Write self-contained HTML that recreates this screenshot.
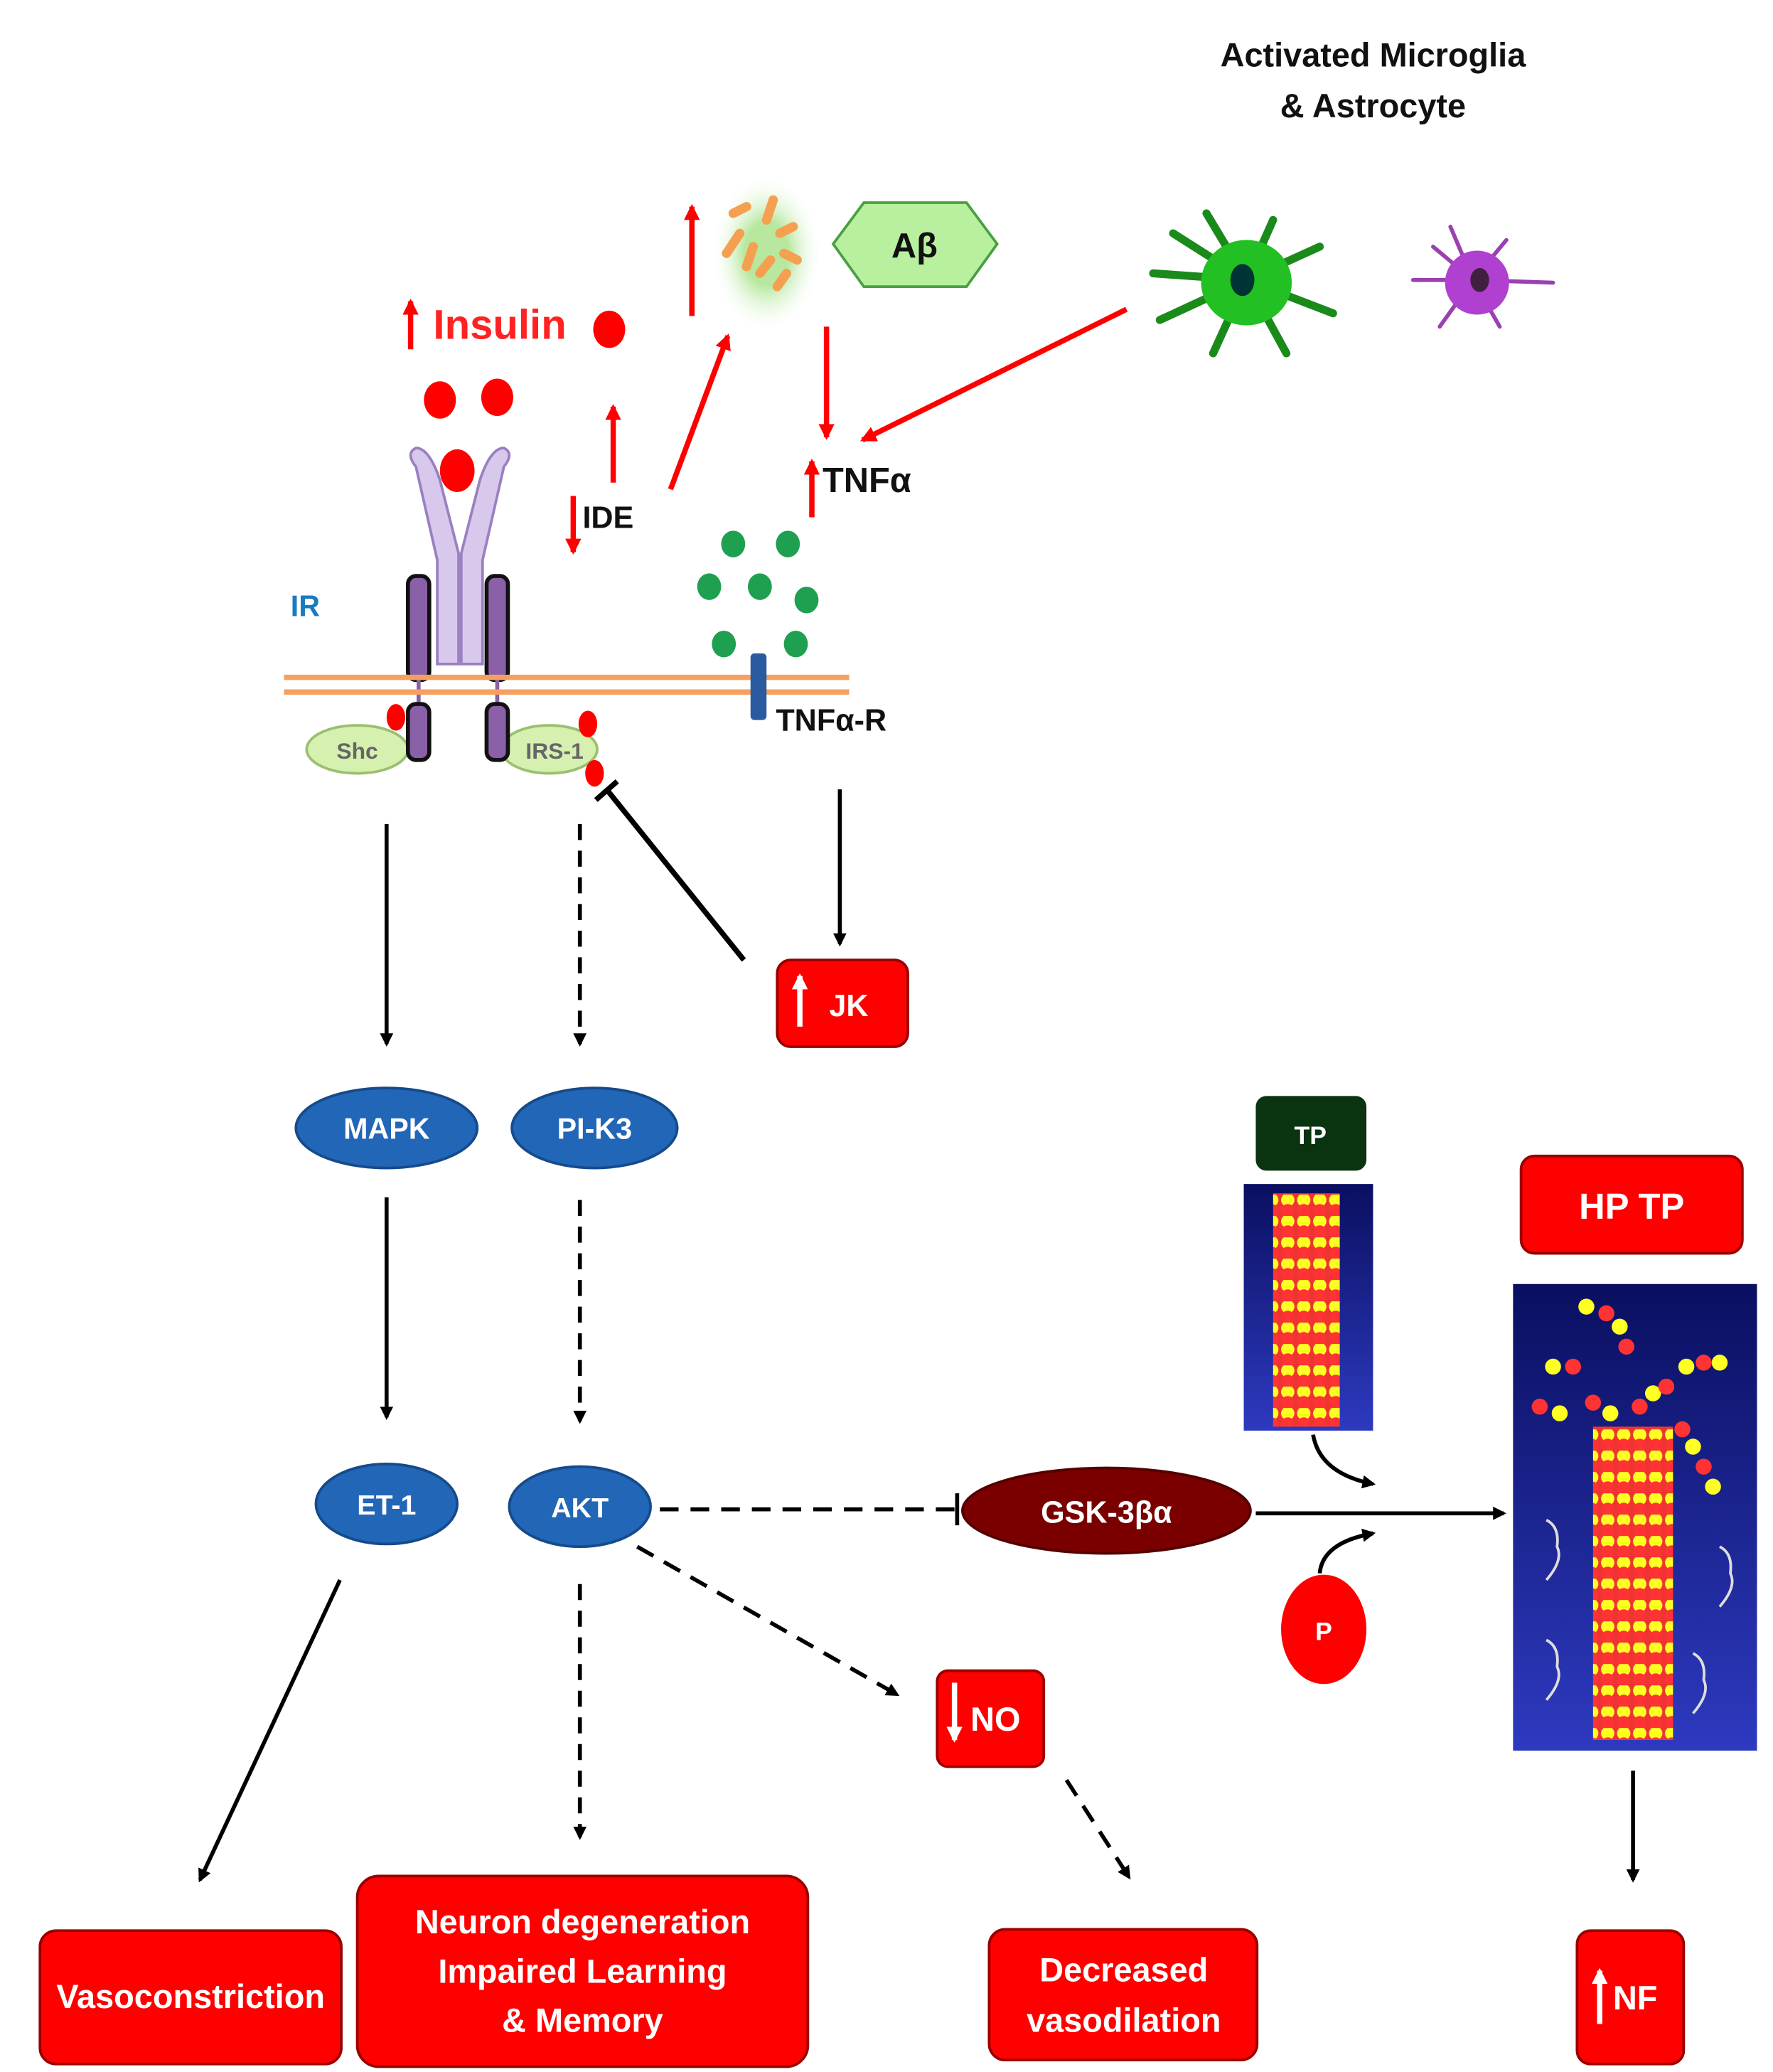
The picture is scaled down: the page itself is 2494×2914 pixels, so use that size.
<!DOCTYPE html>
<html><head><meta charset="utf-8"><style>
html,body{margin:0;padding:0;background:#fff}
svg{display:block}
text{font-family:"Liberation Sans",sans-serif;font-weight:bold}
</style></head><body>
<svg width="2494" height="2914" viewBox="0 0 1330 1554" preserveAspectRatio="none" xmlns="http://www.w3.org/2000/svg">
<defs>
<marker id="ab" markerWidth="10" markerHeight="10" refX="8" refY="5" orient="auto" markerUnits="userSpaceOnUse"><path d="M0,0 L10,5 L0,10 z" fill="#000"/></marker>
<marker id="ar" markerWidth="12" markerHeight="12" refX="10" refY="6" orient="auto" markerUnits="userSpaceOnUse"><path d="M0,0 L12,6 L0,12 z" fill="#f00"/></marker>
<marker id="aw" markerWidth="12" markerHeight="12" refX="10" refY="6" orient="auto" markerUnits="userSpaceOnUse"><path d="M0,0 L12,6 L0,12 z" fill="#fff"/></marker>
<pattern id="tau" width="12" height="16" patternUnits="userSpaceOnUse"><rect width="12" height="16" fill="#e33"/><circle cx="6" cy="4" r="5" fill="#ff2"/><circle cx="6" cy="12" r="5" fill="#f33"/></pattern>
<linearGradient id="nv" x1="0" y1="0" x2="0" y2="1"><stop offset="0" stop-color="#0a0f60"/><stop offset="1" stop-color="#2d3ac0"/></linearGradient>
<radialGradient id="gl"><stop offset="0.4" stop-color="#b8e8a0"/><stop offset="1" stop-color="#fff" stop-opacity="0"/></radialGradient>
</defs>

<text x="1030" y="50" font-size="25" text-anchor="middle" fill="#111">Activated Microglia</text>
<text x="1030" y="88" font-size="25" text-anchor="middle" fill="#111">&amp; Astrocyte</text>

<!-- insulin -->
<line x1="308" y1="262" x2="308" y2="226" stroke="#f00" stroke-width="4" marker-end="url(#ar)"/>
<text x="325" y="254" font-size="31" fill="#f22">Insulin</text>
<ellipse cx="457" cy="247" rx="12" ry="14" fill="#f00"/>
<ellipse cx="330" cy="300" rx="12" ry="14" fill="#f00"/>
<ellipse cx="373" cy="298" rx="12" ry="14" fill="#f00"/>
<ellipse cx="343" cy="353" rx="13" ry="16" fill="#f00"/>

<!-- receptor -->
<path d="M312,350 Q304,340 312,336 Q322,336 330,360 L344,415 L344,498 L328,498 L328,420 Z" fill="#d8c8ec" stroke="#9a80c0" stroke-width="2"/>
<path d="M378,350 Q386,340 378,336 Q368,336 360,360 L346,415 L346,498 L362,498 L362,420 Z" fill="#d8c8ec" stroke="#9a80c0" stroke-width="2"/>
<rect x="306" y="432" width="16" height="78" rx="6" fill="#8a60a8" stroke="#111" stroke-width="3"/>
<rect x="365" y="432" width="16" height="78" rx="6" fill="#8a60a8" stroke="#111" stroke-width="3"/>
<line x1="314" y1="510" x2="314" y2="530" stroke="#8a60a8" stroke-width="3"/>
<line x1="373" y1="510" x2="373" y2="530" stroke="#8a60a8" stroke-width="3"/>
<text x="218" y="462" font-size="22" fill="#1a7ac0">IR</text>
<line x1="213" y1="508" x2="637" y2="508" stroke="#f5a060" stroke-width="4"/>
<line x1="213" y1="519" x2="637" y2="519" stroke="#f5a060" stroke-width="4"/>
<ellipse cx="268" cy="562" rx="38" ry="18" fill="#d6f0b0" stroke="#9ac070" stroke-width="2"/>
<text x="268" y="569" font-size="17" text-anchor="middle" fill="#666" font-family="Liberation Serif" font-weight="normal">Shc</text>
<ellipse cx="412" cy="562" rx="36" ry="18" fill="#d6f0b0" stroke="#9ac070" stroke-width="2"/>
<text x="416" y="569" font-size="17" text-anchor="middle" fill="#666" font-family="Liberation Serif" font-weight="normal">IRS-1</text>
<rect x="306" y="528" width="16" height="42" rx="6" fill="#8a60a8" stroke="#111" stroke-width="3"/>
<rect x="365" y="528" width="16" height="42" rx="6" fill="#8a60a8" stroke="#111" stroke-width="3"/>
<ellipse cx="297" cy="538" rx="7" ry="10" fill="#f00"/>
<ellipse cx="441" cy="543" rx="7" ry="10" fill="#f00"/>
<ellipse cx="446" cy="580" rx="7" ry="10" fill="#f00"/>

<!-- IDE -->
<line x1="430" y1="372" x2="430" y2="414" stroke="#f00" stroke-width="4" marker-end="url(#ar)"/>
<text x="437" y="396" font-size="23" fill="#111">IDE</text>
<line x1="460" y1="362" x2="460" y2="305" stroke="#f00" stroke-width="4" marker-end="url(#ar)"/>
<line x1="503" y1="367" x2="546" y2="252" stroke="#f00" stroke-width="4" marker-end="url(#ar)"/>
<line x1="519" y1="237" x2="519" y2="155" stroke="#f00" stroke-width="4" marker-end="url(#ar)"/>

<!-- plaque -->
<ellipse cx="575" cy="190" rx="42" ry="60" fill="url(#gl)"/>
<g stroke="#f5a050" stroke-width="7" stroke-linecap="round">
<line x1="545" y1="190" x2="555" y2="175"/><line x1="560" y1="200" x2="565" y2="185"/><line x1="575" y1="165" x2="580" y2="150"/><line x1="585" y1="175" x2="595" y2="170"/>
<line x1="570" y1="205" x2="578" y2="195"/><line x1="583" y1="215" x2="590" y2="205"/><line x1="588" y1="190" x2="598" y2="195"/><line x1="550" y1="160" x2="560" y2="155"/>
</g>
<polygon points="625,183 648,152 725,152 748,183 725,215 648,215" fill="#b8f0a0" stroke="#4aa040" stroke-width="2"/>
<text x="686" y="193" font-size="26" text-anchor="middle" fill="#111" font-weight="normal">Aβ</text>

<line x1="620" y1="245" x2="620" y2="328" stroke="#f00" stroke-width="4" marker-end="url(#ar)"/>
<line x1="845" y1="232" x2="647" y2="330" stroke="#f00" stroke-width="4" marker-end="url(#ar)"/>

<!-- microglia -->
<g stroke="#1a8a1a" stroke-width="6" stroke-linecap="round" fill="none">
<path d="M935,210 L880,175 M935,210 L905,160 M935,210 L955,165 M935,210 L990,185 M935,210 L1000,235 M935,210 L965,265 M935,210 L910,265 M935,210 L870,240 M935,210 L865,205"/>
</g>
<ellipse cx="935" cy="212" rx="34" ry="32" fill="#22c022"/>
<ellipse cx="932" cy="210" rx="9" ry="12" fill="#033"/>
<g stroke="#9a40b0" stroke-width="3" stroke-linecap="round" fill="none">
<path d="M1105,210 L1075,185 M1105,210 L1088,170 M1105,210 L1130,180 M1105,210 L1165,212 M1105,210 L1125,245 M1105,210 L1080,245 M1105,210 L1060,210"/>
</g>
<ellipse cx="1108" cy="212" rx="24" ry="24" fill="#b040d0"/>
<ellipse cx="1110" cy="210" rx="7" ry="9" fill="#402040"/>

<!-- TNF -->
<line x1="609" y1="388" x2="609" y2="346" stroke="#f00" stroke-width="4" marker-end="url(#ar)"/>
<text x="617" y="369" font-size="26" fill="#111">TNFα</text>
<g fill="#1ea050">
<ellipse cx="550" cy="408" rx="9" ry="10"/><ellipse cx="591" cy="408" rx="9" ry="10"/>
<ellipse cx="532" cy="440" rx="9" ry="10"/><ellipse cx="570" cy="440" rx="9" ry="10"/><ellipse cx="605" cy="450" rx="9" ry="10"/>
<ellipse cx="543" cy="483" rx="9" ry="10"/><ellipse cx="597" cy="483" rx="9" ry="10"/>
</g>
<rect x="563" y="490" width="12" height="50" rx="3" fill="#2a5aa0"/>
<text x="582" y="548" font-size="23" fill="#111">TNFα-R</text>

<line x1="630" y1="592" x2="630" y2="708" stroke="#000" stroke-width="3" marker-end="url(#ab)"/>
<rect x="583" y="720" width="98" height="65" rx="10" fill="#f00" stroke="#900" stroke-width="2"/>
<line x1="600" y1="770" x2="600" y2="732" stroke="#fff" stroke-width="4" marker-end="url(#aw)"/>
<text x="622" y="762" font-size="23" fill="#fff">JK</text>
<line x1="558" y1="720" x2="455" y2="592" stroke="#000" stroke-width="4"/>
<line x1="447" y1="600" x2="463" y2="586" stroke="#000" stroke-width="4"/>

<!-- main pathway -->
<line x1="290" y1="618" x2="290" y2="783" stroke="#000" stroke-width="3" marker-end="url(#ab)"/>
<line x1="435" y1="618" x2="435" y2="783" stroke="#000" stroke-width="3" stroke-dasharray="12,8" marker-end="url(#ab)"/>
<ellipse cx="290" cy="846" rx="68" ry="30" fill="#2266b8" stroke="#164a8a" stroke-width="2"/>
<text x="290" y="854" font-size="22" text-anchor="middle" fill="#fff">MAPK</text>
<ellipse cx="446" cy="846" rx="62" ry="30" fill="#2266b8" stroke="#164a8a" stroke-width="2"/>
<text x="446" y="854" font-size="22" text-anchor="middle" fill="#fff">PI-K3</text>
<line x1="290" y1="898" x2="290" y2="1063" stroke="#000" stroke-width="3" marker-end="url(#ab)"/>
<line x1="435" y1="900" x2="435" y2="1066" stroke="#000" stroke-width="3" stroke-dasharray="12,8" marker-end="url(#ab)"/>
<ellipse cx="290" cy="1128" rx="53" ry="30" fill="#2266b8" stroke="#164a8a" stroke-width="2"/>
<text x="290" y="1136" font-size="21" text-anchor="middle" fill="#fff">ET-1</text>
<ellipse cx="435" cy="1130" rx="53" ry="30" fill="#2266b8" stroke="#164a8a" stroke-width="2"/>
<text x="435" y="1138" font-size="21" text-anchor="middle" fill="#fff">AKT</text>

<line x1="495" y1="1132" x2="716" y2="1132" stroke="#000" stroke-width="3" stroke-dasharray="14,9"/>
<line x1="718" y1="1120" x2="718" y2="1144" stroke="#000" stroke-width="3"/>
<ellipse cx="830" cy="1133" rx="108" ry="32" fill="#7a0000" stroke="#500" stroke-width="2"/>
<text x="830" y="1142" font-size="23" text-anchor="middle" fill="#fff">GSK-3βα</text>
<line x1="942" y1="1135" x2="1128" y2="1135" stroke="#000" stroke-width="3" marker-end="url(#ab)"/>

<!-- TP -->
<rect x="942" y="822" width="83" height="56" rx="8" fill="#0a3310"/>
<text x="983" y="858" font-size="19" text-anchor="middle" fill="#fff">TP</text>
<rect x="933" y="888" width="97" height="185" fill="url(#nv)"/>
<rect x="955" y="895" width="50" height="175" fill="url(#tau)"/>
<path d="M985,1076 Q990,1105 1030,1113" stroke="#000" stroke-width="3" fill="none" marker-end="url(#ab)"/>
<ellipse cx="993" cy="1222" rx="32" ry="41" fill="#f00"/>
<text x="993" y="1230" font-size="19" text-anchor="middle" fill="#fff">P</text>
<path d="M990,1180 Q992,1157 1030,1150" stroke="#000" stroke-width="3" fill="none" marker-end="url(#ab)"/>

<rect x="1141" y="867" width="166" height="73" rx="10" fill="#f00" stroke="#900" stroke-width="2"/>
<text x="1224" y="914" font-size="27" text-anchor="middle" fill="#fff">HP TP</text>
<rect x="1135" y="963" width="183" height="350" fill="url(#nv)"/>
<rect x="1195" y="1070" width="60" height="235" fill="url(#tau)"/>
<g fill="#ff2"><circle cx="1190" cy="980" r="6"/><circle cx="1215" cy="995" r="6"/><circle cx="1165" cy="1025" r="6"/><circle cx="1265" cy="1025" r="6"/><circle cx="1290" cy="1022" r="6"/><circle cx="1240" cy="1045" r="6"/><circle cx="1170" cy="1060" r="6"/><circle cx="1270" cy="1085" r="6"/><circle cx="1285" cy="1115" r="6"/><circle cx="1208" cy="1060" r="6"/></g>
<g fill="#f33"><circle cx="1205" cy="985" r="6"/><circle cx="1220" cy="1010" r="6"/><circle cx="1180" cy="1025" r="6"/><circle cx="1278" cy="1022" r="6"/><circle cx="1250" cy="1040" r="6"/><circle cx="1155" cy="1055" r="6"/><circle cx="1262" cy="1072" r="6"/><circle cx="1278" cy="1100" r="6"/><circle cx="1195" cy="1052" r="6"/><circle cx="1230" cy="1055" r="6"/></g>
<g stroke="#ddd" stroke-width="2" fill="none"><path d="M1160,1140 q10,5 8,20 q5,10 -8,25"/><path d="M1290,1160 q10,5 8,20 q5,10 -8,25"/><path d="M1160,1230 q10,5 8,20 q5,10 -8,25"/><path d="M1270,1240 q10,5 8,20 q5,10 -8,25"/></g>

<line x1="1225" y1="1328" x2="1225" y2="1410" stroke="#000" stroke-width="3" marker-end="url(#ab)"/>
<rect x="1183" y="1448" width="80" height="100" rx="10" fill="#f00" stroke="#900" stroke-width="2"/>
<line x1="1200" y1="1518" x2="1200" y2="1478" stroke="#fff" stroke-width="4" marker-end="url(#aw)"/>
<text x="1210" y="1507" font-size="25" fill="#fff">NF</text>

<!-- lower -->
<line x1="255" y1="1185" x2="150" y2="1410" stroke="#000" stroke-width="3" marker-end="url(#ab)"/>
<line x1="435" y1="1188" x2="435" y2="1378" stroke="#000" stroke-width="3" stroke-dasharray="12,8" marker-end="url(#ab)"/>
<line x1="478" y1="1160" x2="673" y2="1271" stroke="#000" stroke-width="3" stroke-dasharray="14,9" marker-end="url(#ab)"/>
<rect x="703" y="1253" width="80" height="72" rx="8" fill="#f00" stroke="#900" stroke-width="2"/>
<line x1="716" y1="1262" x2="716" y2="1305" stroke="#fff" stroke-width="4" marker-end="url(#aw)"/>
<text x="728" y="1298" font-size="25" fill="#fff">NO</text>
<line x1="800" y1="1335" x2="847" y2="1408" stroke="#000" stroke-width="3" stroke-dasharray="14,9" marker-end="url(#ab)"/>

<rect x="30" y="1448" width="226" height="100" rx="12" fill="#f00" stroke="#900" stroke-width="2"/>
<text x="143" y="1506" font-size="25" text-anchor="middle" fill="#fff">Vasoconstriction</text>
<rect x="268" y="1407" width="338" height="143" rx="16" fill="#f00" stroke="#900" stroke-width="2"/>
<text x="437" y="1450" font-size="25" text-anchor="middle" fill="#fff">Neuron degeneration</text>
<text x="437" y="1487" font-size="25" text-anchor="middle" fill="#fff">Impaired Learning</text>
<text x="437" y="1524" font-size="25" text-anchor="middle" fill="#fff">&amp; Memory</text>
<rect x="742" y="1447" width="201" height="98" rx="12" fill="#f00" stroke="#900" stroke-width="2"/>
<text x="843" y="1486" font-size="25" text-anchor="middle" fill="#fff">Decreased</text>
<text x="843" y="1524" font-size="25" text-anchor="middle" fill="#fff">vasodilation</text>
</svg>
</body></html>
